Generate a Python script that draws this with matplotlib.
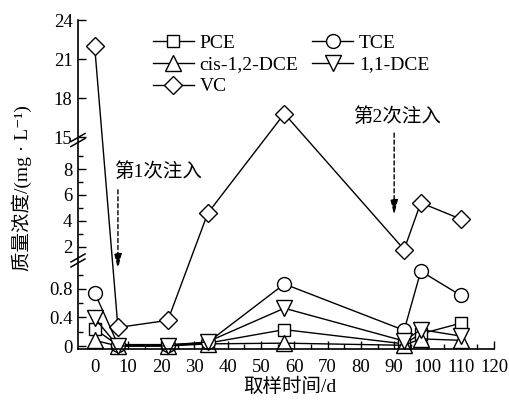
import numpy as np
import matplotlib
matplotlib.use("Agg")
import matplotlib.pyplot as plt
from matplotlib.lines import Line2D
from matplotlib.ticker import FixedLocator, FixedFormatter

plt.rcParams['font.family'] = ['Liberation Serif', 'Noto Sans CJK SC', 'DejaVu Serif']

# 取样时间 (d)
days = [0, 7, 22, 34, 57, 93, 98, 110]
# 质量浓度 (mg/L)
pce = [0.24, 0.01, 0.01, 0.04, 0.23, 0.03, 0.17, 0.32]
tce = [0.75, 0.02, 0.02, 0.05, 0.87, 0.22, 1.05, 0.71]
cis_dce = [0.08, 0.0, 0.0, 0.03, 0.04, 0.01, 0.10, 0.08]
dce11 = [0.39, 0.0, 0.0, 0.06, 0.53, 0.07, 0.23, 0.14]
vc = [22.0, 0.26, 0.36, 4.6, 16.8, 1.8, 5.4, 4.15]

ytick_vals = [0, 0.4, 0.8, 2, 4, 6, 8, 15, 18, 21, 24]
ytick_labels = ['0', '0.4', '0.8', '2', '4', '6', '8', '15', '18', '21', '24']
yminor_vals = [0.2, 0.6, 1.0, 3, 5, 7, 9]
injections = [(7, '第1次注入'), (90, '第2次注入')]

# 断轴: 分段线性刻度
yb = [-10, 0, 1.253, 10, 15, 40]
ub = [-712.5, 0, 89.3, 203, 209, 534]
fwd = lambda y: np.interp(y, yb, ub)
inv = lambda u: np.interp(u, ub, yb)

fig = plt.figure(figsize=(5.1, 4.05), dpi=100)
ax = fig.add_axes([78/510, 56/405, 416/510, 329/405])
ax.set_yscale('function', functions=(fwd, inv))
ax.set_ylim(-0.042, 24)
ax.set_xlim(-5, 120)

series = [
    (pce, 's', 8.5, 'PCE'),
    (cis_dce, '^', 11, 'cis-1,2-DCE'),
    (vc, 'D', 9, 'VC'),
    (tce, 'o', 10, 'TCE'),
    (dce11, 'v', 11, '1,1-DCE'),
]
for vals, mk, ms, lab in series:
    ax.plot(days, vals, color='k', lw=1, marker=mk, ms=ms, mfc='white',
            mec='k', mew=1, label=lab, clip_on=False)

ax.spines['top'].set_visible(False)
ax.spines['right'].set_visible(False)
ax.spines['left'].set_linewidth(1.2)
ax.spines['bottom'].set_linewidth(1.2)

ax.set_xticks(np.arange(0, 121, 10))
ax.set_xticks(np.arange(0, 121, 5), minor=True)
ax.yaxis.set_major_locator(FixedLocator(ytick_vals))
ax.yaxis.set_major_formatter(FixedFormatter(ytick_labels))
ax.yaxis.set_minor_locator(FixedLocator(yminor_vals))
ax.tick_params(which='both', direction='in', labelsize=13.5, width=1)
ax.tick_params(which='major', length=6)
ax.tick_params(which='minor', length=3.5)
ax.tick_params(axis='x', pad=7)
ax.tick_params(axis='y', pad=4)

# 注入箭头
ax.annotate('', xy=(7, 1.08), xytext=(7, 6.4),
            arrowprops=dict(arrowstyle='-|>,head_width=0.22,head_length=0.9',
                            color='k', lw=1, ls=(0, (3, 2)), shrinkA=0, shrinkB=0))
ax.annotate('', xy=(90, 4.46), xytext=(90, 15.3),
            arrowprops=dict(arrowstyle='-|>,head_width=0.22,head_length=0.9',
                            color='k', lw=1, ls=(0, (3, 2)), shrinkA=0, shrinkB=0))
ax.text(5.7, 7.77, injections[0][1], fontsize=14, va='center', ha='left')
ax.text(77.7, 16.54, injections[1][1], fontsize=14, va='center', ha='left')

# 断轴标记
fig.canvas.draw()
to_fig = fig.transFigure.inverted()
for yv in [12.5, 1.2]:
    x0, y0 = ax.transData.transform((-5, yv))
    for dy in [-2.5, 2.5]:
        p1 = to_fig.transform((x0 - 7, y0 + dy - 4))
        p2 = to_fig.transform((x0 + 7, y0 + dy + 4))
        fig.add_artist(Line2D([p1[0], p2[0]], [p1[1], p2[1]], color='k', lw=1.1))

leg = ax.legend(ncol=2, loc='upper left', bbox_to_anchor=(153/510, 1 - 34/405),
                bbox_transform=fig.transFigure, frameon=False, fontsize=14,
                handlelength=2.1, handletextpad=0.3, columnspacing=0.7,
                labelspacing=0.22, borderpad=0, borderaxespad=0)

fig.text(22/510, 1 - 188/405, '质量浓度/(mg · L⁻¹)', rotation=90,
         ha='center', va='center', fontsize=14)
fig.text(290/510, 1 - 387/405, '取样时间/d', ha='center', va='center', fontsize=14)

fig.savefig('out.png', dpi=100)
